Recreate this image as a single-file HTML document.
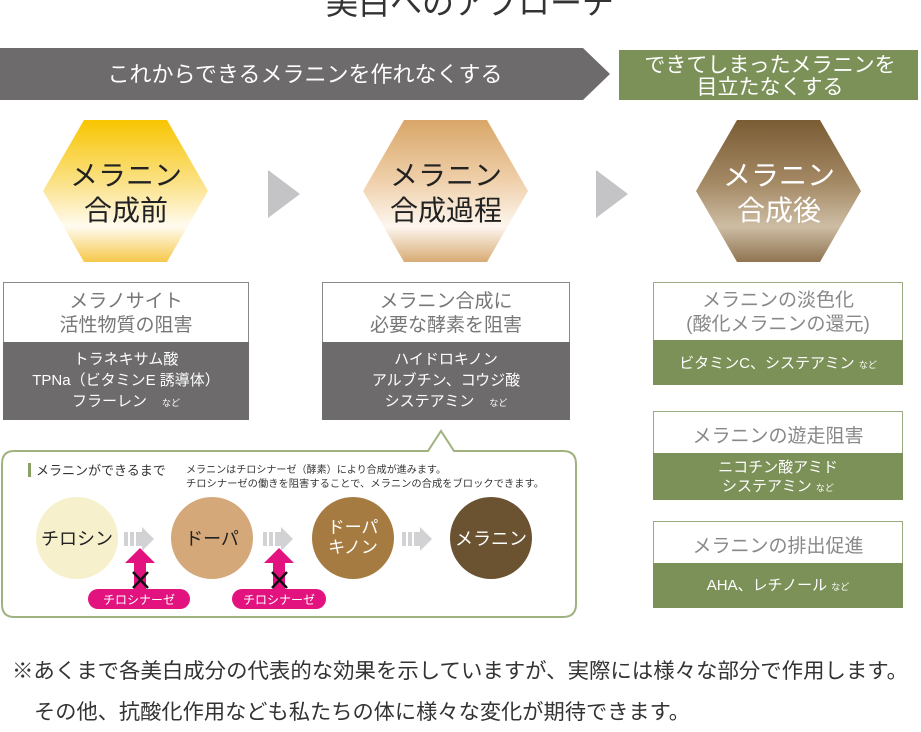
<!DOCTYPE html>
<html><head><meta charset="utf-8"><style>
html,body{margin:0;padding:0;background:#fff;width:921px;height:732px;overflow:hidden}
svg text{font-family:"Liberation Sans","Noto Sans CJK JP",sans-serif}
</style></head><body>
<svg width="921" height="732" viewBox="0 0 921 732" xmlns="http://www.w3.org/2000/svg">
<defs>
<linearGradient id="h1" x1="0" y1="0" x2="0" y2="1"><stop offset="0" stop-color="#f8c500"/><stop offset="0.45" stop-color="#fbe28a"/><stop offset="0.75" stop-color="#fffbf0"/><stop offset="1" stop-color="#f6c84a"/></linearGradient>
<linearGradient id="h2" x1="0" y1="0" x2="0" y2="1"><stop offset="0" stop-color="#d9a668"/><stop offset="0.45" stop-color="#f0d2ae"/><stop offset="0.75" stop-color="#fdf6ef"/><stop offset="1" stop-color="#d8ab74"/></linearGradient>
<linearGradient id="h3" x1="0" y1="0" x2="0" y2="1"><stop offset="0" stop-color="#7a5c34"/><stop offset="0.45" stop-color="#a58a66"/><stop offset="0.75" stop-color="#cdbda4"/><stop offset="1" stop-color="#8f7451"/></linearGradient>
</defs>
<text x="470" y="14" font-size="32" text-anchor="middle" fill="#333">美白へのアプローチ</text>
<polygon points="0,48 583,48 610,74 583,100 0,100" fill="#6d6b6b"/>
<text x="305" y="82" font-size="22" text-anchor="middle" fill="#fff">これからできるメラニンを作れなくする</text>
<rect x="619" y="50" width="299" height="50" fill="#7c9158"/>
<text x="770" y="72" font-size="21" text-anchor="middle" fill="#fff">できてしまったメラニンを</text>
<text x="770" y="94" font-size="21" text-anchor="middle" fill="#fff">目立たなくする</text>
<polygon points="84,120 167,120 208,191 167,262 84,262 43,191" fill="url(#h1)"/>
<polygon points="404,120 487,120 528,191 487,262 404,262 363,191" fill="url(#h2)"/>
<polygon points="737,120 820,120 861,191 820,262 737,262 696,191" fill="url(#h3)"/>
<text x="126" y="185" font-size="28" text-anchor="middle" fill="#222">メラニン</text>
<text x="126" y="220" font-size="28" text-anchor="middle" fill="#222">合成前</text>
<text x="446" y="185" font-size="28" text-anchor="middle" fill="#222">メラニン</text>
<text x="446" y="220" font-size="28" text-anchor="middle" fill="#222">合成過程</text>
<text x="779" y="185" font-size="28" text-anchor="middle" fill="#fff">メラニン</text>
<text x="779" y="220" font-size="28" text-anchor="middle" fill="#fff">合成後</text>
<polygon points="268,170 300,194 268,218" fill="#c4c4c6"/>
<polygon points="596,170 628,194 596,218" fill="#c4c4c6"/>
<rect x="3.5" y="282.5" width="245" height="137" fill="#fff" stroke="#8a8888"/>
<rect x="3" y="342" width="246" height="78" fill="#6d6b6b"/>
<text x="126" y="307" font-size="19" text-anchor="middle" fill="#777">メラノサイト</text>
<text x="126" y="331" font-size="19" text-anchor="middle" fill="#777">活性物質の阻害</text>
<text x="126" y="364" font-size="15" text-anchor="middle" fill="#fff">トラネキサム酸</text>
<text x="126" y="385" font-size="15" text-anchor="middle" fill="#fff">TPNa（ビタミンE 誘導体）</text>
<text x="126" y="406" font-size="15" text-anchor="middle" fill="#fff">フラーレン　<tspan font-size="9">など</tspan></text>
<rect x="322.5" y="282.5" width="247" height="137" fill="#fff" stroke="#8a8888"/>
<rect x="322" y="342" width="248" height="78" fill="#6d6b6b"/>
<text x="446" y="307" font-size="19" text-anchor="middle" fill="#777">メラニン合成に</text>
<text x="446" y="331" font-size="19" text-anchor="middle" fill="#777">必要な酵素を阻害</text>
<text x="446" y="364" font-size="15" text-anchor="middle" fill="#fff">ハイドロキノン</text>
<text x="446" y="385" font-size="15" text-anchor="middle" fill="#fff">アルブチン、コウジ酸</text>
<text x="446" y="406" font-size="15" text-anchor="middle" fill="#fff">システアミン　<tspan font-size="9">など</tspan></text>
<path d="M14,451 L428,451 L441,431 L454,451 L563,451 Q576,451 576,464 L576,604 Q576,617 563,617 L14,617 Q2,617 2,604 L2,464 Q2,451 14,451 Z" fill="#fff" stroke="#9fb27f" stroke-width="2"/>
<rect x="28" y="463" width="3" height="14" fill="#8ba068"/>
<text x="36" y="475" font-size="13" fill="#333">メラニンができるまで</text>
<text x="186" y="473" font-size="10" fill="#333" textLength="260" lengthAdjust="spacingAndGlyphs">メラニンはチロシナーゼ（酵素）により合成が進みます。</text>
<text x="186" y="487" font-size="10" fill="#333" textLength="358" lengthAdjust="spacingAndGlyphs">チロシナーゼの働きを阻害することで、メラニンの合成をブロックできます。</text>
<circle cx="77" cy="538" r="41" fill="#f6f0cc"/>
<circle cx="212" cy="538" r="41" fill="#d4a879"/>
<circle cx="353" cy="538" r="41" fill="#a57b42"/>
<circle cx="491" cy="538" r="41" fill="#6b5331"/>
<text x="77" y="545" font-size="18" text-anchor="middle" fill="#222">チロシン</text>
<text x="212" y="545" font-size="18" text-anchor="middle" fill="#222">ドーパ</text>
<text x="353" y="533" font-size="17" text-anchor="middle" fill="#fff">ドーパ</text>
<text x="353" y="553" font-size="17" text-anchor="middle" fill="#fff">キノン</text>
<text x="491" y="545" font-size="18" text-anchor="middle" fill="#fff">メラニン</text>
<g fill="#d2d2d4"><rect x="124" y="532" width="4" height="14"/><rect x="130" y="532" width="4" height="14"/><rect x="136" y="532" width="6" height="14"/><polygon points="142,527 154,539 142,551"/></g>
<g fill="#d2d2d4"><rect x="263" y="532" width="4" height="14"/><rect x="269" y="532" width="4" height="14"/><rect x="275" y="532" width="6" height="14"/><polygon points="281,527 293,539 281,551"/></g>
<g fill="#d2d2d4"><rect x="402" y="532" width="4" height="14"/><rect x="408" y="532" width="4" height="14"/><rect x="414" y="532" width="6" height="14"/><polygon points="420,527 432,539 420,551"/></g>
<g fill="#e2137f"><polygon points="140,548 155,563 146,563 146,590 134,590 134,563 125,563"/><polygon points="279,548 294,563 285,563 285,590 273,590 273,563 264,563"/>
<rect x="88" y="589" width="102" height="20" rx="10"/><rect x="232" y="589" width="94" height="20" rx="10"/></g>
<g stroke="#111" stroke-width="2.5"><line x1="133" y1="572" x2="148" y2="588"/><line x1="148" y1="572" x2="133" y2="588"/><line x1="272" y1="572" x2="287" y2="588"/><line x1="287" y1="572" x2="272" y2="588"/></g>
<text x="139" y="604" font-size="12" text-anchor="middle" fill="#fff">チロシナーゼ</text>
<text x="279" y="604" font-size="12" text-anchor="middle" fill="#fff">チロシナーゼ</text>
<rect x="653.5" y="282.5" width="249" height="102" fill="#fff" stroke="#9aab82"/>
<rect x="653" y="340" width="250" height="45" fill="#7c9158"/>
<text x="778" y="306" font-size="19" text-anchor="middle" fill="#888">メラニンの淡色化</text>
<text x="778" y="330" font-size="19" text-anchor="middle" fill="#888">(酸化メラニンの還元)</text>
<text x="778" y="368" font-size="15" text-anchor="middle" fill="#fff">ビタミンC、システアミン <tspan font-size="9">など</tspan></text>
<rect x="653.5" y="411.5" width="249" height="88" fill="#fff" stroke="#9aab82"/>
<rect x="653" y="453" width="250" height="47" fill="#7c9158"/>
<text x="778" y="442" font-size="19" text-anchor="middle" fill="#888">メラニンの遊走阻害</text>
<text x="778" y="472" font-size="15" text-anchor="middle" fill="#fff">ニコチン酸アミド</text>
<text x="778" y="491" font-size="15" text-anchor="middle" fill="#fff">システアミン <tspan font-size="9">など</tspan></text>
<rect x="653.5" y="521.5" width="249" height="86" fill="#fff" stroke="#9aab82"/>
<rect x="653" y="563" width="250" height="45" fill="#7c9158"/>
<text x="778" y="552" font-size="19" text-anchor="middle" fill="#888">メラニンの排出促進</text>
<text x="778" y="590" font-size="15" text-anchor="middle" fill="#fff">AHA、レチノール <tspan font-size="9">など</tspan></text>
<text x="12" y="678" font-size="21" fill="#333" textLength="896" lengthAdjust="spacingAndGlyphs">※あくまで各美白成分の代表的な効果を示していますが、実際には様々な部分で作用します。</text>
<text x="34" y="719" font-size="21" fill="#333" textLength="656" lengthAdjust="spacingAndGlyphs">その他、抗酸化作用なども私たちの体に様々な変化が期待できます。</text>
</svg>
</body></html>
